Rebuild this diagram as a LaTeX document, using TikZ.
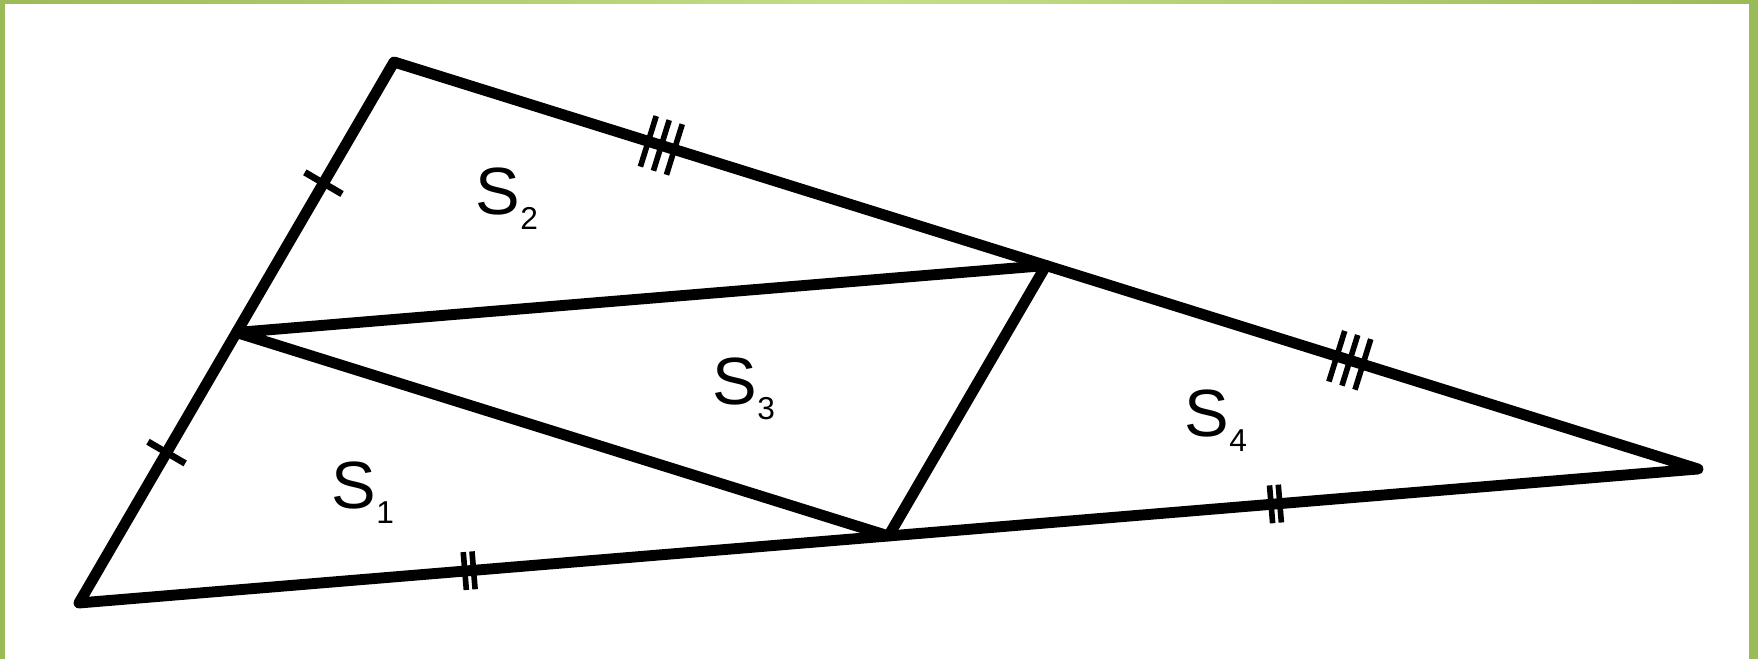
\documentclass[tikz,border=0pt]{standalone}
\usepackage{fontspec}
\setmainfont{Liberation Sans}
\usetikzlibrary{calc}
\definecolor{frameGreen}{RGB}{155,187,89}
\definecolor{frameLight}{RGB}{197,223,135}
\newcommand{\areaS}[1]{S\raisebox{-4.2pt}{\fontsize{9}{10}\selectfont #1}}

\begin{document}
\begin{tikzpicture}[x=0.01cm, y=-0.01cm,
  side/.style={line width=3.1pt, line join=round, line cap=round},
  tickA/.style={fill, inner sep=0pt, minimum width=1.9pt, minimum height=0.43cm, sloped},
  tickB/.style={fill, inner sep=0pt, minimum width=1.6pt, minimum height=0.53cm, sloped},
  tickC/.style={fill, inner sep=0pt, minimum width=1.6pt, minimum height=0.38cm, sloped},
  area/.style={font=\fontsize{19}{22}\selectfont, inner sep=0pt, anchor=base west}]
  \useasboundingbox (0,0) rectangle (1758,659);
  %% Frame
  \fill[frameGreen] (0,0) rectangle (5,659);
  \fill[frameGreen] (1749,0) rectangle (1758,659);
  \shade[left color=frameGreen, right color=frameGreen, middle color=frameLight] (0,0) rectangle (1749,4);
  %% Vertices and midpoints
  \coordinate (A) at (79,603);
  \coordinate (B) at (394,62);
  \coordinate (C) at (1698,469);
  \coordinate (Mab) at ($(A)!0.5!(B)$);
  \coordinate (Mbc) at ($(B)!0.5!(C)$);
  \coordinate (Mac) at ($(A)!0.5!(C)$);
  %% Triangle and midlines
  \draw[side] (A) -- (B) -- (C) -- cycle;
  \draw[side] (Mab) -- (Mbc) -- (Mac) -- cycle;
  %% Equal segment marks
  \path (A) -- (B) node[tickA, pos=0.278] (tab1) {} node[tickA, pos=0.776] (tab2) {};
  \path (B) -- (C)
    node[tickB, pos=0.195] (tbc1) {} node[tickB, pos=0.205] (tbc2) {} node[tickB, pos=0.215] (tbc3) {}
    node[tickB, pos=0.723] (tbc4) {} node[tickB, pos=0.733] (tbc5) {} node[tickB, pos=0.743] (tbc6) {};
  \path (A) -- (C)
    node[tickC, pos=0.2383] (tac1) {} node[tickC, pos=0.2437] (tac2) {}
    node[tickC, pos=0.7363] (tac3) {} node[tickC, pos=0.7417] (tac4) {};
  %% Areas
  \node[area] (s1) at (331,509) {\areaS{1}};
  \node[area] (s2) at (475,215) {\areaS{2}};
  \node[area] (s3) at (712,405) {\areaS{3}};
  \node[area] (s4) at (1184,437) {\areaS{4}};
\end{tikzpicture}
\end{document}
